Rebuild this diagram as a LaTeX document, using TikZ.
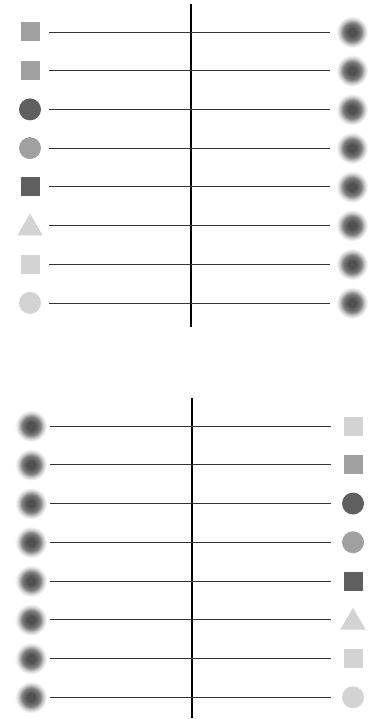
\documentclass[tikz,border=0pt]{standalone}
\usetikzlibrary{shapes.geometric}

\definecolor{markdark}{HTML}{5F5F5F}
\definecolor{markmid}{HTML}{A0A0A0}
\definecolor{marklight}{HTML}{D3D3D3}
\definecolor{dotcore}{HTML}{505050}
\pgfdeclareradialshading{blurdot}{\pgfpoint{0bp}{0bp}}{color(0bp)=(dotcore); color(6bp)=(dotcore); color(14bp)=(dotcore!75); color(20bp)=(dotcore!25); color(25bp)=(white); color(50bp)=(white)}

\tikzset{
  sq mark/.style={rectangle, minimum size=19pt, inner sep=0pt},
  cc mark/.style={circle, minimum size=22pt, inner sep=0pt},
  tri mark/.style={regular polygon, regular polygon sides=3, minimum size=29pt, inner sep=0pt, yshift=-2.5pt},
  blur mark/.style={circle, minimum size=32pt, inner sep=0pt, shade, shading=blurdot},
  row line/.style={line width=0.75pt, black!80},
  axis line/.style={line width=1.5pt, black}
}

\begin{document}
\begin{tikzpicture}[x=1pt, y=-1pt]
  \useasboundingbox (0,0) rectangle (376,719);
  % upper panel
  \coordinate (uptop) at (191,4);
  \coordinate (upbot) at (191,327);
  \draw[axis line] (uptop) -- (upbot);
  \foreach \kind/\col [count=\i] in {sq/markmid, sq/markmid, cc/markdark, cc/markmid, sq/markdark, tri/marklight, sq/marklight, cc/marklight} {
    \pgfmathsetmacro{\y}{32+38.7*(\i-1)}
    \node[\kind\space mark, fill=\col] (upl\i) at (30,\y) {};
    \node[blur mark] (upr\i) at (352,\y) {};
    \coordinate (upa\i) at (49,\y);
    \coordinate (upb\i) at (330,\y);
    \draw[row line] (upa\i) -- (upb\i);
  }
  % lower panel
  \coordinate (lotop) at (192,398);
  \coordinate (lobot) at (192,718);
  \draw[axis line] (lotop) -- (lobot);
  \foreach \kind/\col [count=\i] in {sq/marklight, sq/markmid, cc/markdark, cc/markmid, sq/markdark, tri/marklight, sq/marklight, cc/marklight} {
    \pgfmathsetmacro{\y}{426+38.75*(\i-1)}
    \node[blur mark] (lol\i) at (31,\y) {};
    \node[\kind\space mark, fill=\col] (lor\i) at (353,\y) {};
    \coordinate (loa\i) at (50,\y);
    \coordinate (lob\i) at (331,\y);
    \draw[row line] (loa\i) -- (lob\i);
  }
\end{tikzpicture}
\end{document}
